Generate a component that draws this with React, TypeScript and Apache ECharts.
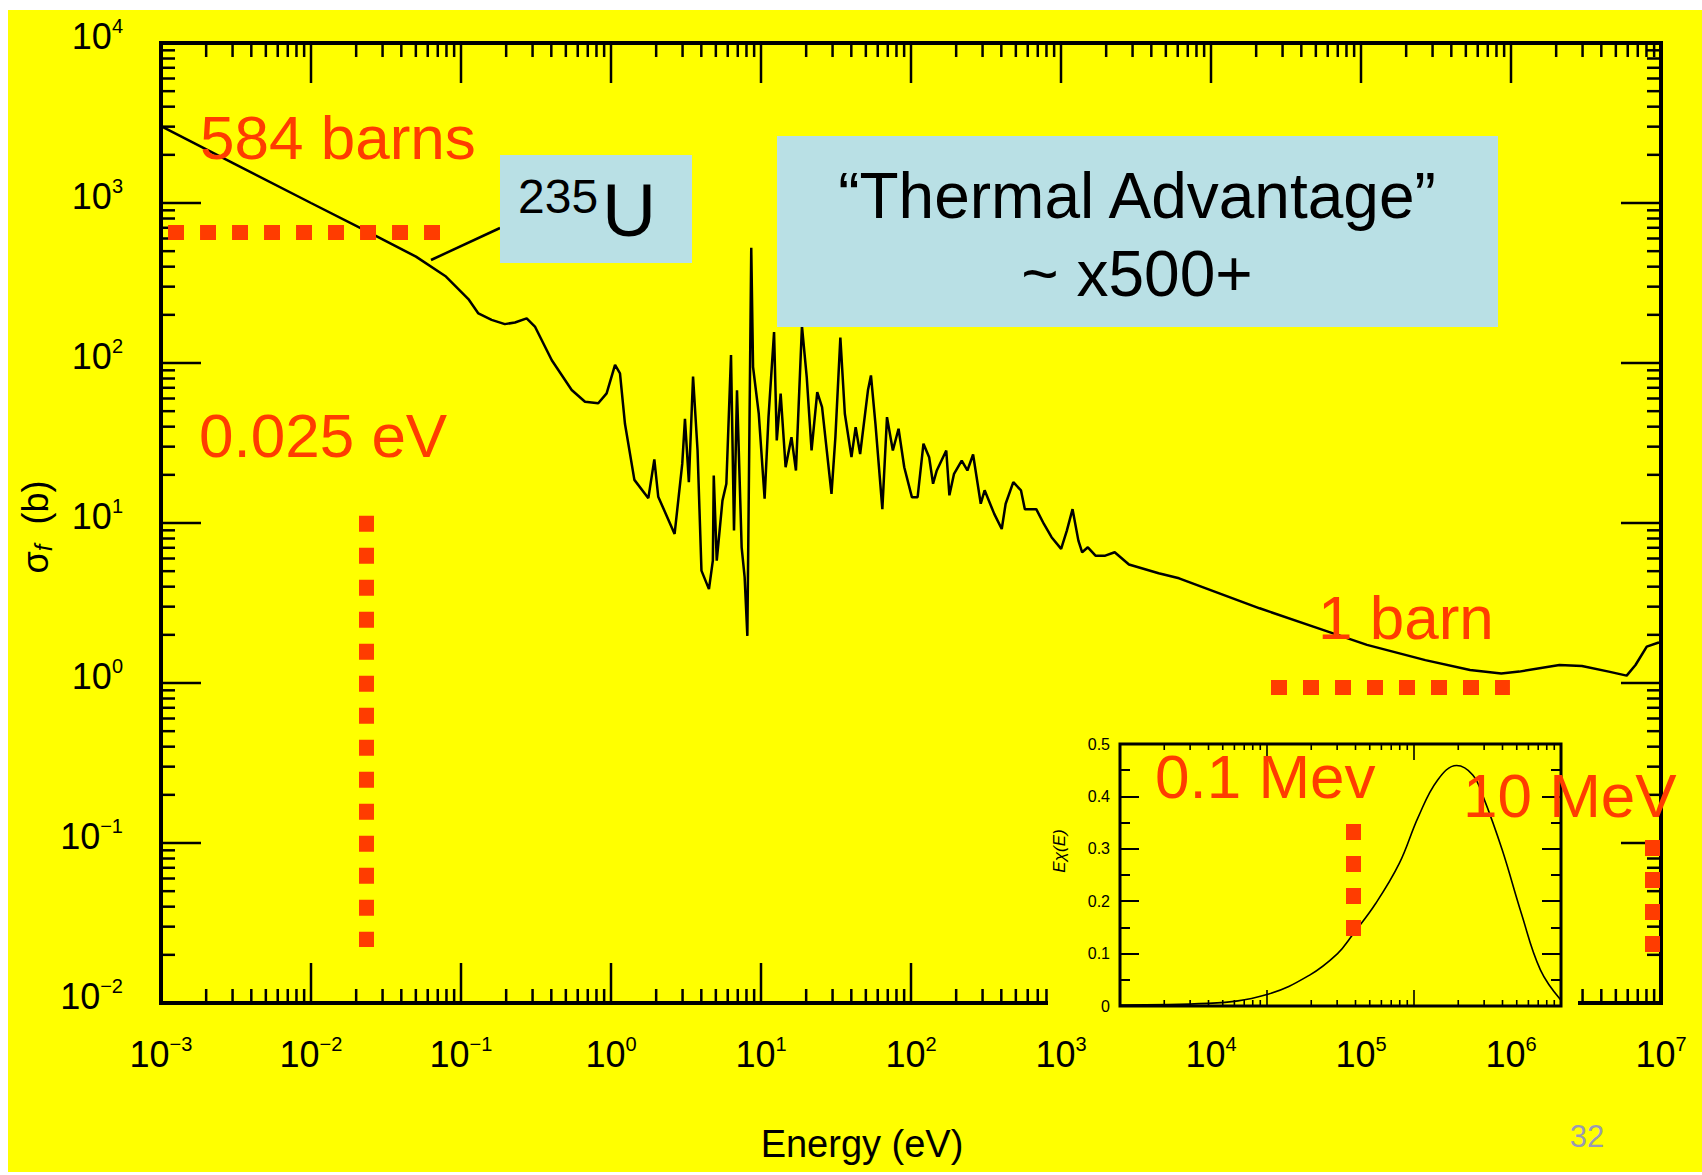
import React, { useEffect, useRef } from "react";
import * as echarts from "echarts";

// ---- 235U fission cross section ----
const energyEV = [0.001, 0.00316, 0.01, 0.0251, 0.0501, 0.0794, 0.112, 0.1306, 0.16, 0.196, 0.229, 0.274, 0.311, 0.403, 0.547, 0.671, 0.822, 0.935, 1.064, 1.148, 1.239, 1.432, 1.774, 1.945, 2.065, 2.655, 2.985, 3.112, 3.304, 3.524, 3.776, 4.009, 4.498, 4.775, 4.842, 5.07, 5.534, 5.875, 6.31, 6.607, 6.918, 7.43, 7.78, 8.11, 8.61, 8.851, 9.661, 10.57, 11.22, 12.22, 12.74, 13.52, 14.59, 15.96, 17.1, 18.75, 20.18, 21.73, 23.71, 25.53, 29.51, 31.33, 33.81, 36.22, 40.09, 42.76, 45.81, 51.64, 54.08, 57.94, 64.42, 69.18, 75.68, 82.6, 90.16, 101.4, 110.7, 121.1, 132.1, 140.3, 148.6, 171.8, 180.3, 193.6, 217.8, 237.7, 259.4, 291.7, 309.7, 358.9, 402.7, 427.6, 480.8, 540.8, 574.1, 683.9, 769.1, 865.0, 1002, 1094, 1194, 1306, 1384, 1510, 1698, 1972, 2280, 2838, 4477, 6124, 21090, 48080, 109600, 268500, 533300, 861000, 1135000, 2104000, 2972000, 4487000, 5902000, 6761000, 8035000, 9550000, 10000000];
const sigmaBarn = [3020, 1738, 1000, 646, 462, 347, 251, 204, 186, 175, 179, 190, 169, 104, 67.8, 57.3, 56.0, 64.6, 97.3, 86.1, 41.7, 18.6, 14.3, 25.0, 14.6, 8.55, 23.4, 44.8, 18.0, 82.4, 28.4, 5.04, 3.86, 5.82, 19.8, 5.82, 13.8, 17.6, 112, 8.97, 67.5, 7.05, 4.57, 1.97, 525, 94.4, 48.2, 14.2, 45.9, 156, 32.8, 64.3, 22.3, 34.4, 21.3, 170, 81.7, 28.4, 65.8, 53.0, 15.2, 34.4, 144, 48.2, 25.8, 39.7, 27.0, 67.5, 83.6, 41.7, 12.2, 45.9, 28.4, 38.8, 22.3, 14.5, 14.5, 31.3, 25.8, 17.6, 21.3, 28.4, 14.9, 20.3, 24.5, 21.3, 26.8, 13.2, 16.0, 11.4, 9.18, 13.2, 18.0, 16.0, 12.2, 12.2, 9.86, 8.15, 6.89, 8.97, 12.2, 7.76, 6.56, 7.05, 6.25, 6.25, 6.56, 5.5, 4.85, 4.51, 2.93, 2.25, 1.73, 1.39, 1.205, 1.148, 1.178, 1.296, 1.276, 1.178, 1.112, 1.296, 1.687, 1.786, 1.79];

// ---- inset: fission neutron spectrum E·chi(E) ----
const spectrumEnergyEV = [1e4, 39810, 1e5, 195000, 302000, 380000, 550000, 794000, 1.07e6, 1.445e6, 1.95e6, 2.51e6, 2.95e6, 3.98e6, 5.37e6, 7.24e6, 1e7];
const spectrumValue = [0.002, 0.005, 0.022, 0.059, 0.1, 0.135, 0.196, 0.272, 0.361, 0.431, 0.459, 0.441, 0.4, 0.298, 0.177, 0.069, 0.011];

// ---- axis tick exponents ----
const xMajorExponents = [-3, -2, -1, 0, 1, 2, 3, 4, 5, 6, 7];
const yMajorExponents = [-2, -1, 0, 1, 2, 3, 4];
const minorMultipliers = [2, 3, 4, 5, 6, 7, 8, 9];
const insetMajorExponents = [5, 6];
const insetMinorDecades = [4, 5, 6];

// ---- red dotted annotation lines [energy eV, sigma b] ----
const line584 = [[0.001114, 655], [0.0736, 655]];
const lineThermal = [[0.02328, 11.1], [0.02328, 0.0224]];
const line1barn = [[25120, 0.938], [984000, 0.938]];
const line01MeV = [[88500, 0.1315], [88500, 0.02624]];
const line10MeV = [[8.71e6, 0.1045], [8.71e6, 0.02084]];

const FONT = "'Liberation Sans', Arial, Helvetica, sans-serif";
const RED = "#ff3c00";
const YELLOW = "#ffff00";
const BOX = "#b9e0e5";

const expText = (k: number) => (k < 0 ? "\u2212" + Math.abs(k) : String(k));

const RICH = {
  b: { fontSize: 36, fontFamily: FONT, fill: "#000", lineHeight: 40 },
  e: { fontSize: 20, fontFamily: FONT, fill: "#000", verticalAlign: "top", lineHeight: 24 },
};

export default function App() {
  const ref = useRef<HTMLDivElement>(null);

  useEffect(() => {
    const chart = echarts.init(ref.current!, null, { renderer: "svg" });

    const mainTicks: number[][] = [];
    xMajorExponents.forEach((k) => mainTicks.push([Math.pow(10, k), 1, 0]));
    xMajorExponents.slice(0, -1).forEach((k) =>
      minorMultipliers.forEach((m) => mainTicks.push([m * Math.pow(10, k), 1, 1]))
    );
    yMajorExponents.forEach((k) => mainTicks.push([1, Math.pow(10, k), 2]));
    yMajorExponents.slice(0, -1).forEach((k) =>
      minorMultipliers.forEach((m) => mainTicks.push([1, m * Math.pow(10, k), 3]))
    );

    const insetTicks: number[][] = [];
    insetMajorExponents.forEach((k) => insetTicks.push([Math.pow(10, k), 0.25, 0]));
    insetMinorDecades.forEach((k) =>
      minorMultipliers.forEach((m) => insetTicks.push([m * Math.pow(10, k), 0.25, 1]))
    );

    const renderMainTicks = (params: any, api: any) => {
      const cs = params.coordSys;
      const kind = api.value(2);
      const p = api.coord([api.value(0), api.value(1)]);
      const st = { stroke: "#000", lineWidth: 2.5 };
      const L = cs.x, R = cs.x + cs.width, T = cs.y, B = cs.y + cs.height;
      const children: any[] = [];
      if (kind === 0 || kind === 1) {
        const len = kind === 0 ? 40 : 14;
        children.push({ type: "line", shape: { x1: p[0], y1: B, x2: p[0], y2: B - len }, style: st });
        children.push({ type: "line", shape: { x1: p[0], y1: T, x2: p[0], y2: T + len }, style: st });
        if (kind === 0) {
          const k = Math.round(Math.log10(api.value(0)));
          children.push({
            type: "text",
            x: p[0],
            y: B + 31,
            style: { text: `{b|10}{e|${expText(k)}}`, align: "center", verticalAlign: "top", rich: RICH },
          });
        }
      } else {
        const len = kind === 2 ? 40 : 14;
        children.push({ type: "line", shape: { x1: L, y1: p[1], x2: L + len, y2: p[1] }, style: st });
        children.push({ type: "line", shape: { x1: R, y1: p[1], x2: R - len, y2: p[1] }, style: st });
        if (kind === 2) {
          const k = Math.round(Math.log10(api.value(1)));
          children.push({
            type: "text",
            x: L - 38,
            y: p[1] - 7,
            style: { text: `{b|10}{e|${expText(k)}}`, align: "right", verticalAlign: "middle", rich: RICH },
          });
        }
      }
      return { type: "group", children };
    };

    const renderInsetTicks = (params: any, api: any) => {
      const cs = params.coordSys;
      const kind = api.value(2);
      const p = api.coord([api.value(0), api.value(1)]);
      const st = { stroke: "#000", lineWidth: 1.6 };
      const T = cs.y, B = cs.y + cs.height;
      const len = kind === 0 ? 16 : 6;
      return {
        type: "group",
        children: [
          { type: "line", shape: { x1: p[0], y1: B, x2: p[0], y2: B - len }, style: st },
          { type: "line", shape: { x1: p[0], y1: T, x2: p[0], y2: T + len }, style: st },
        ],
      };
    };

    const txt = (x: number, y: number, text: string, fontSize: number, fill: string, align = "left", extra: any = {}) => ({
      type: "text",
      x,
      y,
      z: 10,
      style: { text, fontSize, fontFamily: FONT, fill, align, verticalAlign: "middle", ...extra },
    });

    const insetYAxisBase = {
      gridIndex: 1,
      type: "value",
      min: 0,
      max: 0.5,
      interval: 0.1,
      z: 7,
      axisLine: { show: false },
      splitLine: { show: false },
      axisTick: { show: true, inside: true, length: 19, lineStyle: { color: "#000", width: 2 } },
      minorTick: { show: true, splitNumber: 2, length: 10, lineStyle: { color: "#000", width: 2 } },
    };

    const option: any = {
      animation: false,
      backgroundColor: "transparent",
      grid: [
        { left: 161, top: 43, width: 1500, height: 960, show: true, borderColor: "#000", borderWidth: 4, backgroundColor: "transparent", z: 0 },
        { left: 1120, top: 744, width: 441, height: 262, show: true, borderColor: "#000", borderWidth: 3, backgroundColor: "transparent", z: 6 },
      ],
      xAxis: [
        { gridIndex: 0, type: "log", logBase: 10, min: 1e-3, max: 1e7, axisLine: { show: false }, axisTick: { show: false }, axisLabel: { show: false }, splitLine: { show: false } },
        { gridIndex: 1, type: "log", logBase: 10, min: 1e4, max: 1e7, axisLine: { show: false }, axisTick: { show: false }, axisLabel: { show: false }, splitLine: { show: false } },
      ],
      yAxis: [
        { gridIndex: 0, type: "log", logBase: 10, min: 1e-2, max: 1e4, axisLine: { show: false }, axisTick: { show: false }, axisLabel: { show: false }, splitLine: { show: false } },
        {
          ...insetYAxisBase,
          position: "left",
          axisLabel: {
            show: true,
            fontSize: 16,
            fontFamily: FONT,
            color: "#000",
            margin: 10,
            padding: [0, 0, 8, 0],
            formatter: (v: number) => (v === 0 ? "0" : v.toFixed(1)),
          },
        },
        { ...insetYAxisBase, position: "right", axisLabel: { show: false } },
      ],
      series: [
        {
          type: "custom",
          xAxisIndex: 0,
          yAxisIndex: 0,
          z: 1,
          silent: true,
          renderItem: renderMainTicks,
          data: mainTicks,
        },
        {
          type: "line",
          xAxisIndex: 0,
          yAxisIndex: 0,
          z: 2,
          symbol: "none",
          showSymbol: false,
          lineStyle: { color: "#000", width: 2.5 },
          data: energyEV.map((e, i) => [e, sigmaBarn[i]]),
        },
        {
          type: "custom",
          xAxisIndex: 1,
          yAxisIndex: 1,
          z: 7,
          silent: true,
          renderItem: renderInsetTicks,
          data: insetTicks,
        },
        {
          type: "line",
          xAxisIndex: 1,
          yAxisIndex: 1,
          z: 7,
          smooth: 0.4,
          symbol: "none",
          showSymbol: false,
          lineStyle: { color: "#000", width: 1.6 },
          data: spectrumEnergyEV.map((e, i) => [e, spectrumValue[i]]),
        },
        {
          type: "lines",
          coordinateSystem: "cartesian2d",
          xAxisIndex: 0,
          yAxisIndex: 0,
          z: 8,
          silent: true,
          lineStyle: { color: RED, width: 15, type: [16, 16], opacity: 1, cap: "butt" },
          data: [line584, lineThermal, line1barn, line01MeV, line10MeV].map((c) => ({ coords: c })),
        },
      ],
      graphic: [
        { type: "rect", z: 4, shape: { x: 500, y: 155, width: 192, height: 108 }, style: { fill: BOX } },
        { type: "rect", z: 4, shape: { x: 777, y: 136, width: 721, height: 191 }, style: { fill: BOX } },
        { type: "rect", z: 5, shape: { x: 1048, y: 725, width: 530, height: 291 }, style: { fill: YELLOW } },
        { type: "line", z: 3, shape: { x1: 431, y1: 260, x2: 500, y2: 228 }, style: { stroke: "#000", lineWidth: 2.5 } },
        txt(200, 137, "584 barns", 62, RED),
        txt(199, 435, "0.025 eV", 62, RED),
        txt(1318, 617, "1 barn", 62, RED),
        txt(1155, 776, "0.1 Mev", 62, RED),
        txt(1463, 795, "10 MeV", 62, RED),
        txt(1137, 196, "\u201CThermal Advantage\u201D", 64, "#000", "center"),
        txt(1137, 274, "~ x500+", 64, "#000", "center"),
        txt(518, 196, "235", 48, "#000"),
        txt(602, 210, "U", 75, "#000"),
        txt(862, 1144, "Energy (eV)", 38, "#000", "center"),
        txt(1587, 1136, "32", 31, "#9a9ab4", "center"),
        {
          type: "text",
          x: 35,
          y: 527,
          rotation: Math.PI / 2,
          z: 10,
          style: {
            text: "{s|\u03C3}{f|f}{s|  (b)}",
            align: "center",
            verticalAlign: "middle",
            rich: {
              s: { fontSize: 36, fontFamily: FONT, fill: "#000", lineHeight: 40 },
              f: { fontSize: 24, fontFamily: FONT, fontStyle: "italic", fill: "#000", verticalAlign: "bottom", lineHeight: 24 },
            },
          },
        },
        {
          type: "text",
          x: 1059,
          y: 851,
          rotation: Math.PI / 2,
          z: 10,
          style: { text: "E\u03C7(E)", fontSize: 17, fontFamily: FONT, fontStyle: "italic", fill: "#000", align: "center", verticalAlign: "middle" },
        },
      ],
    };

    chart.setOption(option);
    return () => chart.dispose();
  }, []);

  return (
    <div style={{ position: "fixed", left: 0, top: 0, width: 1702, height: 1175, background: "#fff" }}>
      <div style={{ position: "absolute", left: 8, top: 10, width: 1694, height: 1162, background: YELLOW }} />
      <div ref={ref} style={{ position: "absolute", left: 0, top: 0, width: 1702, height: 1175 }} />
    </div>
  );
}
